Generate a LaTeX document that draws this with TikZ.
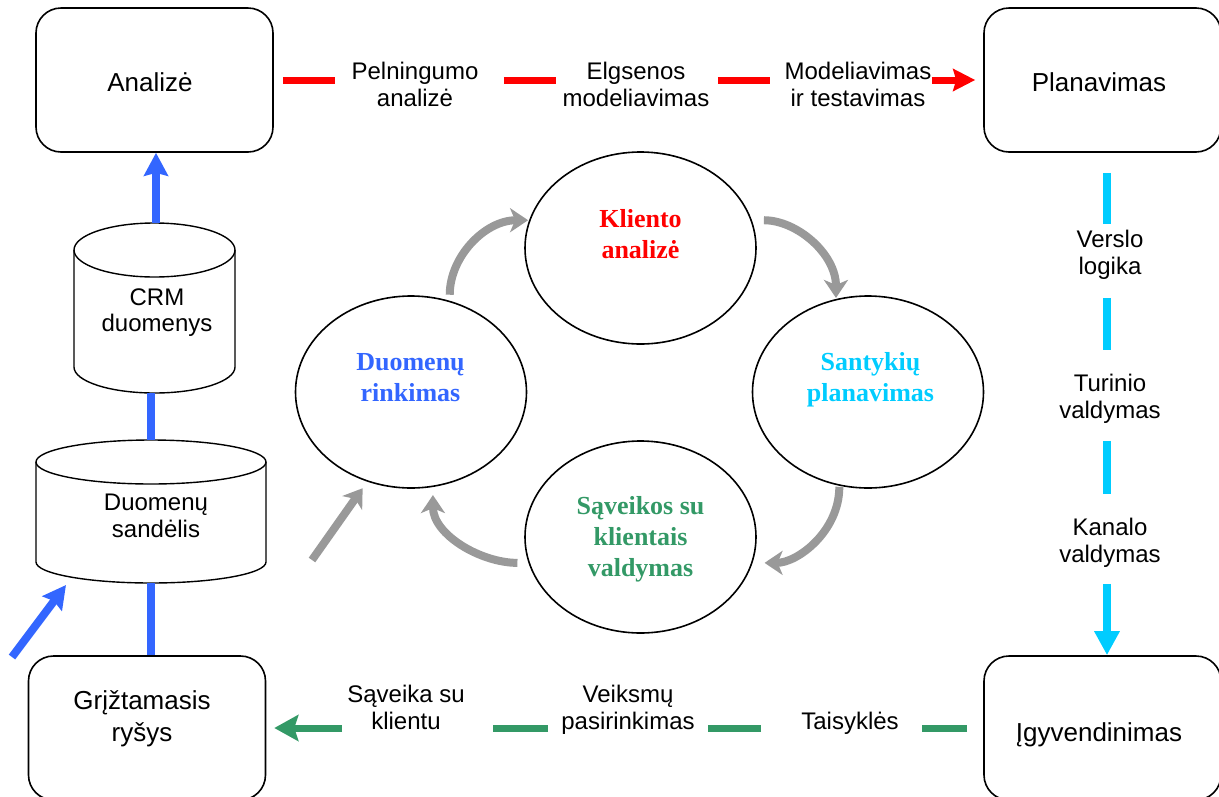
\documentclass[tikz,border=0pt]{standalone}
\usepackage{fontspec}
\setmainfont{Liberation Sans}
\newfontfamily\stagefont{Liberation Serif}
\usetikzlibrary{arrows.meta,shapes.geometric}
\definecolor{flowred}{HTML}{FF0000}
\definecolor{flowblue}{HTML}{3366FF}
\definecolor{flowcyan}{HTML}{00CCFF}
\definecolor{flowgreen}{HTML}{339966}
\definecolor{cyclegray}{HTML}{999999}

\begin{document}
\begin{tikzpicture}[x=1pt,y=1pt,
  box/.style={draw, line width=1.6pt, rounded corners=25pt, minimum width=237pt,
    minimum height=144pt, inner sep=0pt},
  boxtext/.style={font=\fontsize{26}{32}\selectfont, align=center, inner sep=0pt},
  lbl/.style={font=\fontsize{24}{27}\selectfont, align=center, inner sep=0pt},
  frame/.style={minimum width=#1, inner sep=0pt},
  cyl/.style={line width=1.4pt},
  stage/.style={draw, line width=1.6pt, ellipse, minimum width=231pt,
    minimum height=192pt, inner sep=0pt},
  stagetext/.style={font=\stagefont\bfseries\fontsize{26}{31}\selectfont,
    align=center, inner sep=0pt},
  redflow/.style={flowred, line width=7pt,
    dash pattern=on 52pt off 169pt on 52pt off 162pt on 52pt off 162pt on 300pt,
    -{Stealth[length=22pt,width=22pt,inset=3pt]}},
  cyanflow/.style={flowcyan, line width=8pt,
    dash pattern=on 51pt off 74pt on 52pt off 91pt on 53pt off 90pt on 300pt,
    -{Triangle[length=24pt,width=24pt]}},
  greenflow/.style={flowgreen, line width=7pt,
    dash pattern=on 45pt off 161pt on 53pt off 160pt on 55pt off 151pt on 300pt,
    -{Stealth[length=24pt,width=26pt,inset=4pt]}},
  blueline/.style={flowblue, line width=8pt},
  bluearrow/.style={flowblue, line width=8pt, -{Stealth[length=23pt,width=24pt,inset=3pt]}},
  cyclearrow/.style={cyclegray, line width=8pt, -{Stealth[length=18pt,width=24pt,inset=5pt]}}
]
\useasboundingbox (0,0) rectangle (1219,-796);
\clip (0,0) rectangle (1219,-796);

% corner boxes
\node[box] (A) at (154.5,-80) {};
\node[box] (P) at (1102.5,-80) {};
\node[box] (G) at (147,-728) {};
\node[box] (I) at (1102.5,-728) {};
\node[boxtext] (At) at (150,-82.5) {Analizė};
\node[boxtext] (Pt) at (1099,-82.5) {Planavimas};
\node[boxtext] (Gt) at (142,-719) {Grįžtamasis\\ryšys};
\node[boxtext] (It) at (1099,-735) {Įgyvendinimas};

% data stores
\node[frame=161pt, minimum height=170pt] (crm) at (154.5,-308) {};
\node[frame=230pt, minimum height=143pt] (wh) at (151,-511.5) {};
\draw[cyl] (74,-250) -- (74,-367)
  arc[start angle=180, end angle=360, x radius=80.5, y radius=26] -- (235,-250);
\draw[cyl] (154.5,-250) ellipse [x radius=80.5, y radius=27];
\draw[cyl] (36,-462) -- (36,-562)
  arc[start angle=180, end angle=360, x radius=115, y radius=21] -- (266,-462);
\draw[cyl] (151,-462) ellipse [x radius=115, y radius=22];
\node[lbl, font=\fontsize{24}{26}\selectfont] (crmt) at (157,-313) {CRM\\duomenys};
\node[lbl] (wht) at (156,-516) {Duomenų\\sandėlis};

% blue data path
\draw[bluearrow] ([xshift=1.5pt]crm.north) -- ([xshift=1.5pt]crm.north |- A.south);
\draw[blueline] (crm.south -| wh.north) -- (wh.north);
\draw[blueline] (wh.south) -- (wh.south |- G.north);
\coordinate (fbin) at (12,-657);
\coordinate (fbout) at (66,-585);
\draw[bluearrow] (fbin) -- (fbout);

% red analysis path
\draw[redflow] ([xshift=9pt]A.east) -- ([xshift=-8pt]P.west);
\node[lbl] (r1) at (415,-84) {Pelningumo\\analizė};
\node[lbl] (r2) at (636,-84) {Elgsenos\\modeliavimas};
\node[lbl] (r3) at (858,-84) {Modeliavimas\\ir testavimas};

% cyan planning path
\draw[cyanflow] ([xshift=4.5pt,yshift=-20pt]P.south) -- ([xshift=4.5pt]I.north);
\node[lbl] (c1) at (1110,-255) {Verslo\\logika};
\node[lbl] (c2) at (1110,-398.5) {Turinio\\valdymas};
\node[lbl] (c3) at (1110,-542.5) {Kanalo\\valdymas};

% green execution path
\draw[greenflow] ([xshift=-16pt]I.west) -- ([xshift=8pt]G.east);
\node[lbl] (g1) at (406,-707.5) {Sąveika su\\klientu};
\node[lbl] (g2) at (628,-710) {Veiksmų\\pasirinkimas};
\node[lbl] (g3) at (850,-723) {Taisyklės};

% central cycle
\node[stage] (K) at (640.5,-248) {};
\node[stage] (D) at (411,-392) {};
\node[stage] (S) at (868,-392) {};
\node[stage] (Q) at (640.5,-537) {};
\node[stagetext, text=flowred] (Kt) at (640.5,-234) {Kliento\\analizė};
\node[stagetext, text=flowblue] (Dt) at (410.5,-378) {Duomenų\\rinkimas};
\node[stagetext, text=flowcyan] (St) at (870.5,-380) {Santykių\\planavimas};
\node[stagetext, text=flowgreen] (Qt) at (640.5,-539) {Sąveikos su\\klientais\\valdymas};

\draw[cyclearrow, shorten <=6pt, shorten >=1pt] (D.67) to[out=90, in=180] (K.166);
\draw[cyclearrow, shorten <=12pt, shorten >=1pt] (K.14) to[out=0, in=90] (S.109);
\draw[cyclearrow, shorten <=1pt, shorten >=12pt] (S.253) to[out=270, in=0] (Q.-13);
\draw[cyclearrow, shorten <=11pt, shorten >=8pt] (Q.193) to[out=180, in=270] (D.283);
\coordinate (cyin) at (312,-560);
\draw[cyclearrow, shorten >=8pt] (cyin) -- (D.244);
\end{tikzpicture}
\end{document}
